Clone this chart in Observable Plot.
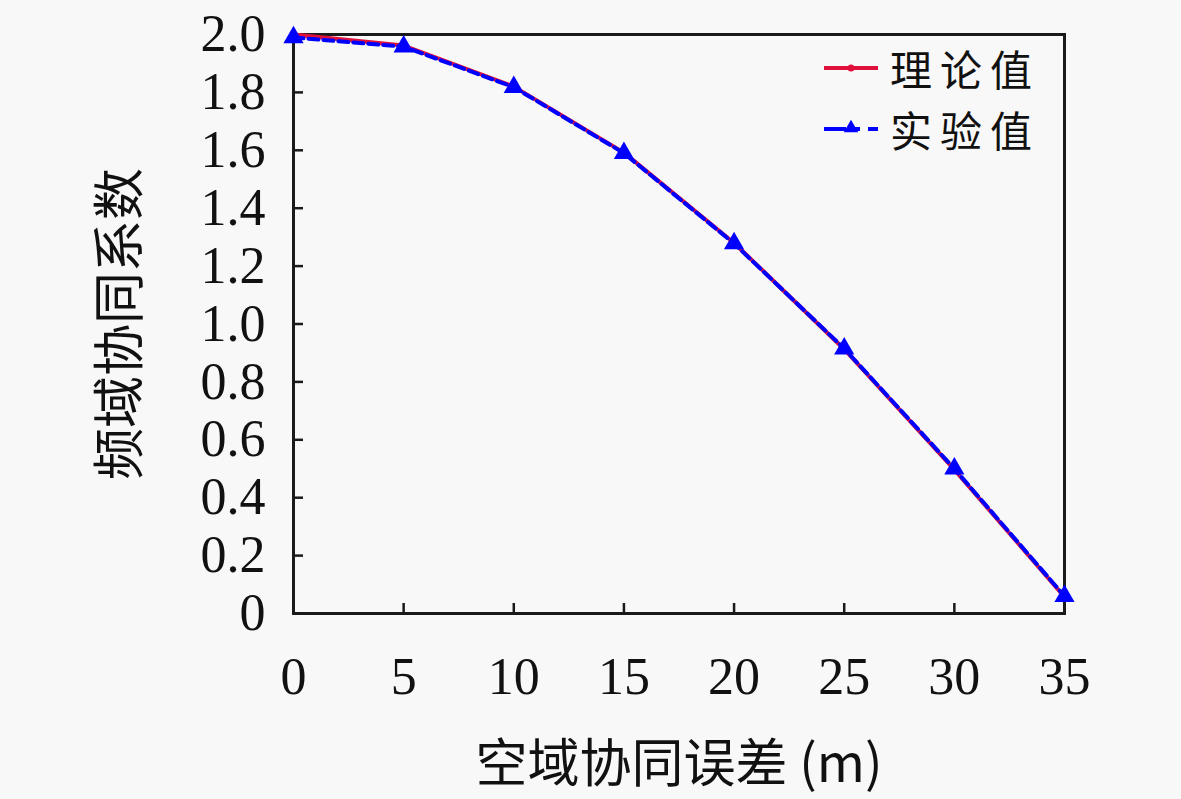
<!DOCTYPE html>
<html>
<head>
<meta charset="utf-8">
<script src="https://cdn.jsdelivr.net/npm/d3@7"></script>
<script src="https://cdn.jsdelivr.net/npm/@observablehq/plot@0.6"></script>
<style>
  html, body { margin: 0; padding: 0; background: #f8f8f8; }
  #wrap { position: relative; width: 1181px; height: 799px; }
  #legend { position: absolute; left: 822px; top: 37px; font-family: "Noto Sans CJK SC", sans-serif; font-size: 42px; color: #111; }
  #legend .row { display: flex; align-items: center; height: 61px; }
  #legend svg { margin-right: 10px; }
  #legend span { display: inline-block; line-height: 44px; height: 44px; letter-spacing: 8px; }
</style>
</head>
<body>
<div id="wrap"><div id="chart"></div><div id="legend"></div></div>
<script>
const xValues = [0, 5, 10, 15, 20, 25, 30, 35];
const theory = [2.0, 1.962, 1.82, 1.592, 1.28, 0.913, 0.497, 0.057];
const experiment = [1.99, 1.958, 1.818, 1.59, 1.278, 0.915, 0.5, 0.06];
const xTicks = [0, 5, 10, 15, 20, 25, 30, 35];
const yTicks = [0, 0.2, 0.4, 0.6, 0.8, 1.0, 1.2, 1.4, 1.6, 1.8, 2.0];
const seriesNames = ["理论值", "实验值"];
const colors = ["#e0103c", "#0000ff"];

const theoryData = xValues.map((x, i) => ({x, y: theory[i]}));
const expData = xValues.map((x, i) => ({x, y: experiment[i]}));

const numFont = "'Liberation Serif', 'DejaVu Serif', serif";
const cjkFont = "'Noto Sans CJK SC', sans-serif";
const W = 1181, H = 799, ML = 293, MR = 117, MT = 34, MB = 186;

const plot = Plot.plot({
  width: W,
  height: H,
  marginLeft: ML,
  marginRight: MR,
  marginTop: MT,
  marginBottom: MB,
  style: {fontFamily: numFont, fontSize: "52px", color: "#111", background: "transparent"},
  x: {domain: [0, 35], label: null},
  y: {domain: [0, 2], label: null},
  marks: [
    Plot.frame({stroke: "#1a1a1a", strokeWidth: 3}),
    Plot.tickX(xTicks, {x: d => d, stroke: "#1a1a1a", strokeWidth: 2.5, insetTop: (H - MT - MB) - 10}),
    Plot.tickY(yTicks, {y: d => d, stroke: "#1a1a1a", strokeWidth: 2.5, insetRight: (W - ML - MR) - 10}),
    Plot.axisX({ticks: xTicks, tickSize: 0, tickPadding: 44, tickFormat: d => String(d), label: null}),
    Plot.axisY({ticks: yTicks, tickSize: 0, tickPadding: 28, tickFormat: d => d === 0 ? "0" : d.toFixed(1), label: null}),
    Plot.line(theoryData, {x: "x", y: "y", stroke: colors[0], strokeWidth: 4}),
    Plot.dot(theoryData, {x: "x", y: "y", fill: colors[0], r: 3}),
    Plot.line(expData, {x: "x", y: "y", stroke: colors[1], strokeWidth: 4, strokeDasharray: "10,5"}),
    Plot.dot(expData, {x: "x", y: "y", symbol: "triangle", fill: colors[1], r: 7.5}),
    Plot.text(["空域协同误差 (m)"], {frameAnchor: "bottom", lineAnchor: "middle", dy: 152, fontFamily: cjkFont, fontSize: 52, fill: "#111"}),
    Plot.text(["频域协同系数"], {frameAnchor: "left", dx: -172, rotate: -90, textAnchor: "middle", fontFamily: cjkFont, fontSize: 52, fill: "#111"})
  ]
});
document.getElementById("chart").appendChild(plot);

const legend = document.getElementById("legend");
seriesNames.forEach((name, i) => {
  const row = document.createElement("div");
  row.className = "row";
  const s = d3.create("svg").attr("width", 58).attr("height", 20);
  s.append("line").attr("x1", 2).attr("x2", 56).attr("y1", 10).attr("y2", 10)
    .attr("stroke", colors[i]).attr("stroke-width", 4)
    .attr("stroke-dasharray", i === 1 ? "22,8,6,8" : null);
  if (i === 0) s.append("circle").attr("cx", 29).attr("cy", 10).attr("r", 3.5).attr("fill", colors[i]);
  else s.append("path").attr("d", d3.symbol(d3.symbolTriangle, 90)()).attr("transform", "translate(29,9)").attr("fill", colors[i]);
  row.appendChild(s.node());
  const t = document.createElement("span");
  t.textContent = name;
  row.appendChild(t);
  legend.appendChild(row);
});
</script>
</body>
</html>
